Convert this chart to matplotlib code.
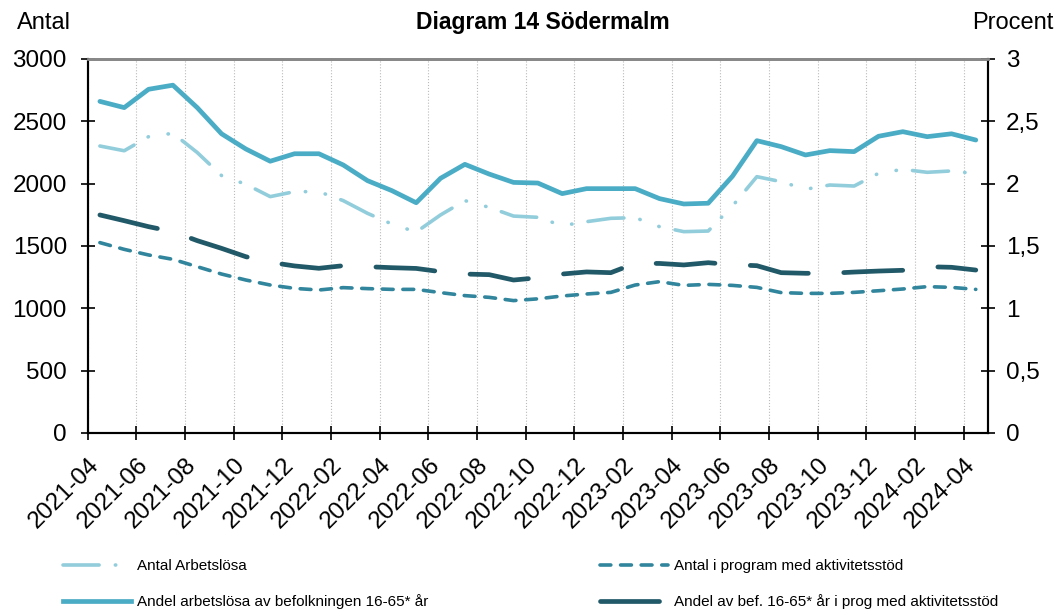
import matplotlib
matplotlib.use("Agg")
import matplotlib.pyplot as plt
from matplotlib.lines import Line2D
from matplotlib.transforms import ScaledTranslation
import numpy as np

plt.rcParams['font.family'] = ['Liberation Sans', 'DejaVu Sans']

months = ['2021-04', '2021-05', '2021-06', '2021-07', '2021-08', '2021-09', '2021-10',
          '2021-11', '2021-12', '2022-01', '2022-02', '2022-03', '2022-04', '2022-05',
          '2022-06', '2022-07', '2022-08', '2022-09', '2022-10', '2022-11', '2022-12',
          '2023-01', '2023-02', '2023-03', '2023-04', '2023-05', '2023-06', '2023-07',
          '2023-08', '2023-09', '2023-10', '2023-11', '2023-12', '2024-01', '2024-02',
          '2024-03', '2024-04']

# Antal (left axis)
antal_arbetslosa = [2302, 2264, 2377, 2404, 2250, 2065, 1995, 1896, 1936, 1936, 1864, 1762,
                    1676, 1612, 1749, 1864, 1810, 1740, 1730, 1663, 1695, 1722, 1727, 1655,
                    1615, 1620, 1821, 2056, 2016, 1955, 1989, 1981, 2083, 2115, 2091, 2102, 2080]
antal_program = [1527, 1473, 1428, 1393, 1334, 1275, 1227, 1187, 1160, 1147, 1166, 1158,
                 1152, 1152, 1126, 1102, 1088, 1062, 1076, 1099, 1115, 1128, 1187, 1214,
                 1184, 1192, 1184, 1168, 1126, 1120, 1120, 1128, 1141, 1155, 1174, 1168, 1152]
# Procent (right axis)
andel_arbetslosa = [2.66, 2.61, 2.757, 2.79, 2.61, 2.40, 2.278, 2.18, 2.24, 2.24, 2.15, 2.024,
                    1.944, 1.847, 2.043, 2.155, 2.077, 2.01, 2.005, 1.92, 1.96, 1.96, 1.96, 1.88,
                    1.837, 1.843, 2.06, 2.345, 2.297, 2.23, 2.265, 2.257, 2.38, 2.417, 2.377, 2.40, 2.35]
andel_program = [1.749, 1.703, 1.655, 1.615, 1.543, 1.481, 1.414, 1.369, 1.34, 1.321, 1.342, 1.334,
                 1.326, 1.32, 1.294, 1.275, 1.27, 1.227, 1.245, 1.275, 1.292, 1.286, 1.361, 1.36,
                 1.348, 1.366, 1.35, 1.342, 1.286, 1.281, 1.281, 1.291, 1.299, 1.305, 1.334, 1.329, 1.307]

c_light = '#92CDDC'
c_solid = '#4BACC6'
c_teal = '#31859C'
c_dark = '#215968'

ls_light = (0, (10, 4.5, 0.1, 5.5, 0.1, 4.5))
ls_teal = (0, (3, 2.7))
ls_dark = (0, (12.5, 7.5))

x = np.arange(len(months))

fig = plt.figure(figsize=(10.57, 6.12), dpi=100)
ax = fig.add_axes([0.083, 0.2925, 0.8517, 0.6111])
ax2 = ax.twinx()

ax.plot(x, antal_arbetslosa, color=c_light, lw=2.6, ls=ls_light, dash_capstyle='round')
ax.plot(x, antal_program, color=c_teal, lw=2.6, ls=ls_teal, dash_capstyle='round')
ax2.plot(x, andel_arbetslosa, color=c_solid, lw=3.4, solid_capstyle='round')
ax2.plot(x, andel_program, color=c_dark, lw=3.4, ls=ls_dark, dash_capstyle='round')

ax.set_xlim(-0.5, len(months) - 0.5)
ax.set_ylim(0, 3000)
ax2.set_ylim(0, 3)
ax.set_yticks(range(0, 3001, 500))
ax2.set_yticks([0, 0.5, 1, 1.5, 2, 2.5, 3])
ax2.set_yticklabels(['0', '0,5', '1', '1,5', '2', '2,5', '3'])

# ticks/gridlines between categories, labels on every second category
ax.set_xticks(np.arange(-0.5, len(months), 2))
ax.set_xticklabels([])
ax.set_xticks(x[::2], minor=True)
ax.set_xticklabels(months[::2], minor=True, rotation=45, ha='right',
                   rotation_mode='anchor', fontsize=17.5)
ax.tick_params(axis='x', which='minor', length=0, pad=15)
ax.tick_params(axis='x', which='major', direction='inout', length=10, width=1.2)
ax.xaxis.grid(True, which='major', color='#BBBBBB', ls=':', lw=0.8)
offset = ScaledTranslation(-12 / 100, 0, fig.dpi_scale_trans)
for lbl in ax.get_xticklabels(minor=True):
    lbl.set_transform(lbl.get_transform() + offset)

ax.tick_params(axis='y', direction='inout', length=10, width=1.2, labelsize=17.5, pad=10)
ax2.tick_params(axis='y', direction='inout', length=10, width=1.2, labelsize=17.5, pad=8)

for a in (ax, ax2):
    a.spines['top'].set_color('#888888')
    a.spines['top'].set_linewidth(2)
    for s in ('left', 'right', 'bottom'):
        a.spines[s].set_linewidth(1.5)
        a.spines[s].set_color('black')

fig.text(0.514, 0.963, 'Diagram 14 Södermalm', ha='center', va='center',
         fontsize=16.5, fontweight='bold')
fig.text(0.042, 0.963, 'Antal', ha='center', va='center', fontsize=17)
fig.text(0.958, 0.963, 'Procent', ha='center', va='center', fontsize=17)

leg_kw = dict(frameon=False, fontsize=11, handlelength=4.45, handletextpad=0.4,
              labelspacing=1.4, borderpad=0, borderaxespad=0, loc='upper left')
leg1 = fig.legend(
    [Line2D([], [], color=c_light, lw=2.6, ls=ls_light, dash_capstyle='round'),
     Line2D([], [], color=c_solid, lw=3.4)],
    ['Antal Arbetslösa', 'Andel arbetslösa av befolkningen 16-65* år'],
    bbox_to_anchor=(63 / 1057, 1 - 559 / 612), **leg_kw)
leg2 = fig.legend(
    [Line2D([], [], color=c_teal, lw=2.6, ls=ls_teal, dash_capstyle='round'),
     Line2D([], [], color=c_dark, lw=3.4, ls=ls_dark, dash_capstyle='round')],
    ['Antal i program med aktivitetsstöd', 'Andel av bef. 16-65* år i prog med aktivitetsstöd'],
    bbox_to_anchor=(600 / 1057, 1 - 559 / 612), **leg_kw)

fig.savefig('out.png', dpi=100)
